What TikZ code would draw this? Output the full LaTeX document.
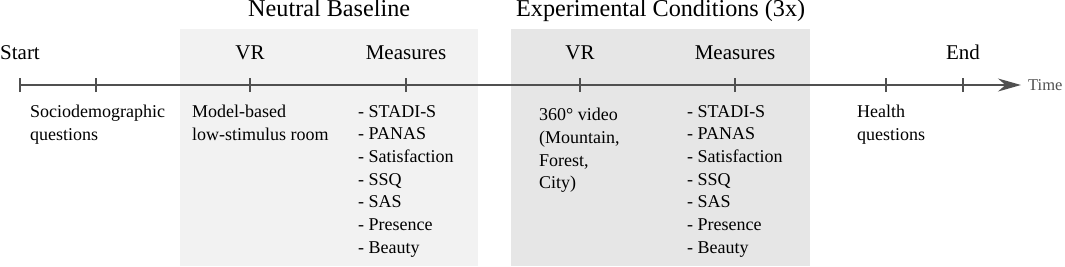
\documentclass[tikz,border=0pt]{standalone}
\usepackage{fontspec}
\setmainfont{Liberation Serif}
\usetikzlibrary{arrows.meta, positioning}
\definecolor{baseFill}{HTML}{F2F2F2}
\definecolor{expFill}{HTML}{E6E6E6}
\definecolor{axisGray}{HTML}{505050}

\begin{document}
\begin{tikzpicture}[x=1pt, y=1pt,
    phasebox/.style={draw=none, inner sep=0pt, anchor=south west,
                     minimum height=236.5pt},
    phase/.style={inner sep=0pt, font=\fontsize{24.2}{30}\selectfont},
    lbl/.style={inner sep=0pt, font=\fontsize{21}{25}\selectfont},
    txt/.style={inner sep=0pt, align=left, anchor=north west,
                font=\fontsize{18}{22.7}\selectfont},
    axis/.style={-{Stealth[length=23pt, width=13pt]}, line width=1.6pt,
                 draw=axisGray},
    tickmark/.style={line width=1.3pt, draw=axisGray},
    endmark/.style={line width=2.6pt, draw=axisGray}
  ]
  \useasboundingbox (0,0) rectangle (1065,266);
  % phase backgrounds
  \node[phasebox, fill=baseFill, minimum width=298pt] (basebox) at (180,0) {};
  \node[phasebox, fill=expFill, minimum width=299pt]  (expbox)  at (511,0) {};
  \node[phase, above=12.2pt of basebox.north, anchor=base] (basetitle) {Neutral Baseline};
  \node[phase, above=12.2pt of expbox.north, anchor=base]  (exptitle)  {Experimental Conditions (3x)};

  % time axis
  \coordinate (t0) at (20,181);
  \coordinate (t1) at (96,181);
  \coordinate (t2) at (250,181);
  \coordinate (t3) at (406,181);
  \coordinate (t4) at (580,181);
  \coordinate (t5) at (735,181);
  \coordinate (t6) at (886,181);
  \coordinate (t7) at (963,181);
  \coordinate (ax) at (1021,181);
  \draw[axis] (t0) -- (ax);
  \foreach \t in {t1,t2,t3,t4,t5,t6}
    \draw[tickmark] ([yshift=-7pt]\t) -- ([yshift=7pt]\t);
  \draw[endmark] ([yshift=-7pt]t0) -- ([yshift=7pt]t0);
  \draw[endmark] ([yshift=-7pt]t7) -- ([yshift=7pt]t7);
  \node[right=7pt of ax, inner sep=0pt, text=axisGray,
        font=\fontsize{16.5}{20}\selectfont] (time) {Time};

  % labels above the axis
  \node[lbl, above=25pt of t0] (start)    {Start};
  \node[lbl, above=25pt of t2] (basevr)   {VR};
  \node[lbl, above=25pt of t3] (basemlbl) {Measures};
  \node[lbl, above=25pt of t4] (expvr)    {VR};
  \node[lbl, above=25pt of t5] (expmlbl)  {Measures};
  \node[lbl, above=25pt of t7] (end)      {End};

  % descriptions below the axis
  \node[txt] (socio)  at (30,161)  {Sociodemographic\\questions};
  \node[txt] (model)  at (192,161) {Model-based\\low-stimulus room};
  \node[txt] (basemeas) at (358,161)
    {- STADI-S\\- PANAS\\- Satisfaction\\- SSQ\\- SAS\\- Presence\\- Beauty};
  \node[txt] (video)  at (539,158) {360° video\\(Mountain,\\Forest,\\City)};
  \node[txt] (expmeas) at (687,161)
    {- STADI-S\\- PANAS\\- Satisfaction\\- SSQ\\- SAS\\- Presence\\- Beauty};
  \node[txt] (health) at (857,161) {Health\\questions};
\end{tikzpicture}
\end{document}
